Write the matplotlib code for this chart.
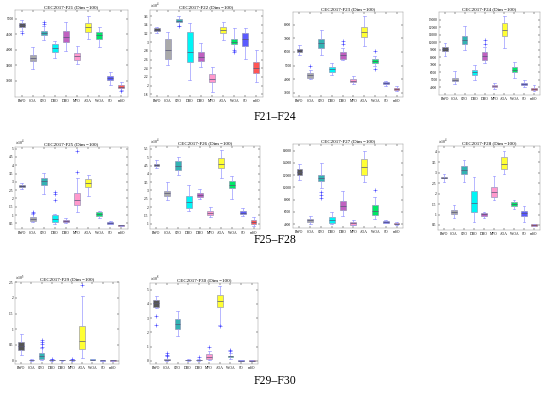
import matplotlib
matplotlib.use("Agg")
import matplotlib.pyplot as plt

plt.rcParams['font.family'] = ['Liberation Serif', 'DejaVu Serif']
plt.rcParams['mathtext.fontset'] = 'stix'

algorithms = ["BWO", "COA", "CPO", "DBO", "DHO", "MPO", "AOA", "WOA", "SO", "mSO"]
colors = ["#555555", "#aaaaaa", "#33b3b3", "#00f5f5", "#c060c0",
          "#ff99cc", "#ffff33", "#00e866", "#5a5aff", "#ff5555"]

# ---- F21 ----
F21_q1 = [4728, 3637, 4469, 3940, 4242, 3691, 4587, 4339, 3043, 2773]
F21_med = [4803, 3745, 4544, 4069, 4425, 3799, 4728, 4479, 3108, 2816]
F21_q3 = [4879, 3853, 4620, 4188, 4609, 3907, 4857, 4587, 3162, 2860]
F21_lo = [4620, 3378, 4317, 3745, 3972, 3562, 4350, 4101, 2860, 2698]
F21_hi = [4965, 4080, 4760, 4296, 4900, 4134, 5095, 4728, 3281, 2957]
F21_fl = [[4555], [], [4900, 4840], [], [], [], [], [], [], [2660]]

# ---- F22 (x1e4) ----
F22_q1 = [3.254, 2.623, 3.454, 2.546, 2.569, 2.077, 3.200, 2.954, 2.915, 2.285]
F22_med = [3.285, 2.815, 3.492, 2.777, 2.662, 2.146, 3.277, 3.008, 3.062, 2.408]
F22_q3 = [3.315, 3.069, 3.523, 3.238, 2.777, 2.262, 3.338, 3.069, 3.208, 2.538]
F22_lo = [3.215, 2.469, 3.369, 2.138, 2.431, 1.862, 3.046, 2.800, 2.623, 2.077]
F22_hi = [3.354, 3.223, 3.600, 3.431, 2.985, 2.431, 3.454, 3.331, 3.323, 2.815]
F22_fl = [[], [], [3.37], [], [], [], [], [2.81, 2.78], [], []]

# ---- F23 ----
F23_q1 = [6000, 4122, 6317, 4537, 5463, 3805, 7098, 5195, 3634, 3195]
F23_med = [6122, 4293, 6659, 4732, 5756, 3902, 7463, 5366, 3707, 3268]
F23_q3 = [6244, 4463, 6976, 4902, 6000, 4000, 7829, 5512, 3780, 3366]
F23_lo = [5756, 4000, 5756, 4293, 5390, 3634, 6415, 5000, 3537, 3122]
F23_hi = [6488, 4700, 7634, 5220, 6300, 4220, 8610, 5700, 3854, 3488]
F23_fl = [[], [4976], [], [], [6805, 6560], [], [], [6073, 4780], [], []]

# ---- F24 ----
F24_q1 = [8777, 4759, 9804, 5652, 7661, 3955, 10875, 5964, 4268, 3643]
F24_med = [9045, 4982, 10339, 5964, 8196, 4089, 11679, 6321, 4446, 3777]
F24_q3 = [9313, 5205, 10875, 6321, 8643, 4223, 12571, 6634, 4580, 3911]
F24_lo = [8196, 4446, 9000, 4982, 7214, 3777, 9223, 5205, 4000, 3509]
F24_hi = [9893, 6098, 12125, 6991, 9400, 4536, 13554, 7348, 4937, 4312]
F24_fl = [[], [], [], [], [10250, 9700], [], [], [], [], []]

# ---- F25 (x1e4) ----
F25_q1 = [2.68, 0.64, 2.80, 0.60, 0.60, 1.60, 2.70, 0.96, 0.48, 0.34]
F25_med = [2.76, 0.76, 3.04, 0.74, 0.66, 1.90, 2.96, 1.08, 0.54, 0.38]
F25_q3 = [2.84, 0.86, 3.26, 1.00, 0.70, 2.30, 3.20, 1.16, 0.58, 0.42]
F25_lo = [2.56, 0.56, 2.24, 0.44, 0.52, 1.16, 2.16, 0.84, 0.44, 0.33]
F25_hi = [2.96, 1.04, 3.56, 1.04, 0.80, 3.24, 3.44, 1.26, 0.66, 0.43]
F25_fl = [[], [1.20, 1.10], [], [2.40, 2.26, 1.88], [], [4.84, 3.60], [], [], [], []]

# ---- F26 (x1e4) ----
F26_q1 = [4.50, 2.68, 4.22, 1.92, 2.58, 1.52, 4.36, 3.16, 1.56, 0.98]
F26_med = [4.56, 2.84, 4.48, 2.32, 2.70, 1.64, 4.62, 3.36, 1.66, 1.10]
F26_q3 = [4.62, 2.98, 4.76, 2.68, 2.82, 1.76, 4.98, 3.56, 1.76, 1.22]
F26_lo = [4.36, 2.42, 3.92, 1.76, 2.48, 1.42, 3.76, 2.48, 1.48, 0.88]
F26_hi = [4.82, 3.52, 5.02, 3.32, 3.06, 2.02, 5.42, 3.88, 1.96, 1.42]
F26_fl = [[], [], [], [], [], [], [], [], [], []]

# ---- F27 ----
F27_q1 = [12066, 4327, 10976, 4218, 6344, 3891, 12066, 5472, 4218, 3946]
F27_med = [12556, 4600, 11521, 4654, 6998, 4109, 13265, 6180, 4327, 4055]
F27_q3 = [13047, 4818, 11957, 5090, 7706, 4272, 14628, 7052, 4436, 4164]
F27_lo = [11140, 4055, 9900, 4000, 5308, 3782, 10867, 4872, 4109, 3891]
F27_hi = [13810, 5254, 13974, 5962, 9450, 4600, 15990, 8400, 4709, 4272]
F27_fl = [[], [], [9300, 8800, 8300], [], [], [], [], [9559], [], []]

# ---- F28 (x1e4) ----
F28_q1 = [2.73, 1.04, 2.92, 1.14, 0.95, 1.85, 3.16, 1.42, 0.95, 0.47]
F28_med = [2.77, 1.14, 3.11, 1.53, 1.01, 2.09, 3.44, 1.50, 1.06, 0.52]
F28_q3 = [2.81, 1.23, 3.31, 2.12, 1.06, 2.33, 3.73, 1.58, 1.17, 0.55]
F28_lo = [2.57, 0.85, 2.54, 0.66, 0.85, 1.69, 2.92, 1.26, 0.66, 0.45]
F28_hi = [2.92, 1.45, 3.60, 2.81, 1.14, 2.84, 4.05, 1.71, 1.41, 0.56]
F28_fl = [[], [], [], [], [], [], [], [], [], []]

# ---- F29 (x1e5) ----
F29_q1 = [0.35, 0.010, 0.07, 0.010, 0.010, 0.010, 0.37, 0.020, 0.005, 0.005]
F29_med = [0.47, 0.020, 0.14, 0.020, 0.015, 0.020, 0.64, 0.030, 0.012, 0.012]
F29_q3 = [0.61, 0.030, 0.24, 0.030, 0.020, 0.030, 1.12, 0.040, 0.020, 0.020]
F29_lo = [0.17, 0.000, 0.03, 0.000, 0.005, 0.000, 0.09, 0.010, 0.000, 0.000]
F29_hi = [0.85, 0.040, 0.40, 0.040, 0.030, 0.040, 2.06, 0.050, 0.030, 0.030]
F29_fl = [[], [], [0.66, 0.61, 0.54, 0.43], [0.045], [], [0.045], [2.40], [], [], []]

# ---- F30 (x1e8) ----
F30_q1 = [3.76, 0.02, 2.23, 0.02, 0.02, 0.12, 3.78, 0.23, 0.005, 0.005]
F30_med = [4.06, 0.06, 2.60, 0.04, 0.05, 0.26, 4.18, 0.30, 0.010, 0.010]
F30_q3 = [4.25, 0.12, 2.93, 0.07, 0.08, 0.47, 4.65, 0.35, 0.020, 0.020]
F30_lo = [3.71, 0.00, 1.71, 0.00, 0.00, 0.02, 2.54, 0.12, 0.000, 0.000]
F30_hi = [4.53, 0.40, 3.52, 0.10, 0.12, 0.66, 5.28, 0.54, 0.030, 0.030]
F30_fl = [[3.12, 2.49], [0.54, 0.42, 0.30], [], [], [0.26], [0.96], [2.46], [0.77, 0.66], [], []]

panels = [
    ("CEC2017-F21 (Dim =100)", F21_q1, F21_med, F21_q3, F21_lo, F21_hi, F21_fl, None, (2482, 5289), [3000, 3500, 4000, 4500, 5000]),
    ("CEC2017-F22 (Dim =100)", F22_q1, F22_med, F22_q3, F22_lo, F22_hi, F22_fl, 4, (1.738, 3.738), [1.8, 2, 2.2, 2.4, 2.6, 2.8, 3, 3.2, 3.4, 3.6]),
    ("CEC2017-F23 (Dim =100)", F23_q1, F23_med, F23_q3, F23_lo, F23_hi, F23_fl, None, (2707, 8927), [3000, 4000, 5000, 6000, 7000, 8000]),
    ("CEC2017-F24 (Dim =100)", F24_q1, F24_med, F24_q3, F24_lo, F24_hi, F24_fl, None, (2929, 14045), [4000, 5000, 6000, 7000, 8000, 9000, 10000, 11000, 12000, 13000]),
    ("CEC2017-F25 (Dim =100)", F25_q1, F25_med, F25_q3, F25_lo, F25_hi, F25_fl, 4, (0.16, 5.1), [0.5, 1, 1.5, 2, 2.5, 3, 3.5, 4, 4.5, 5]),
    ("CEC2017-F26 (Dim =100)", F26_q1, F26_med, F26_q3, F26_lo, F26_hi, F26_fl, 4, (0.68, 5.68), [1, 1.5, 2, 2.5, 3, 3.5, 4, 4.5, 5, 5.5]),
    ("CEC2017-F27 (Dim =100)", F27_q1, F27_med, F27_q3, F27_lo, F27_hi, F27_fl, None, (3346, 17080), [4000, 6000, 8000, 10000, 12000, 14000, 16000]),
    ("CEC2017-F28 (Dim =100)", F28_q1, F28_med, F28_q3, F28_lo, F28_hi, F28_fl, 4, (0.26, 4.28), [0.5, 1, 1.5, 2, 2.5, 3, 3.5, 4]),
    ("CEC2017-F29 (Dim =100)", F29_q1, F29_med, F29_q3, F29_lo, F29_hi, F29_fl, 5, (-0.105, 2.506), [0, 0.5, 1, 1.5, 2, 2.5]),
    ("CEC2017-F30 (Dim =100)", F30_q1, F30_med, F30_q3, F30_lo, F30_hi, F30_fl, 8, (-0.23, 5.47), [0, 1, 2, 3, 4, 5]),
]

# axes boxes in pixels: x0, x1, y_top, y_bottom
W, H = 550, 397
boxes_px = [
    (15, 128, 10, 97), (150, 263, 10, 97), (293, 403, 12, 97), (439, 540, 12, 95),
    (15, 128, 147, 229), (150, 260, 146, 229), (293, 403, 144, 228), (438, 540, 146, 230),
    (15, 119, 282, 364), (150, 258, 283, 364),
]

fig = plt.figure(figsize=(W / 100, H / 100), dpi=100)

for (title, q1, med, q3, lo, hi, fl, expo, ylim, yticks), (x0, x1, yt, yb) in zip(panels, boxes_px):
    ax = fig.add_axes([x0 / W, 1 - yb / H, (x1 - x0) / W, (yb - yt) / H])
    stats = []
    for i, name in enumerate(algorithms):
        stats.append(dict(label=name, q1=q1[i], med=med[i], q3=q3[i],
                          whislo=lo[i], whishi=hi[i], fliers=fl[i]))
    bp = ax.bxp(stats, patch_artist=True, widths=0.55, showfliers=True,
                boxprops=dict(linewidth=0.4, edgecolor="#8888aa"),
                medianprops=dict(color="#555577", linewidth=0.5),
                whiskerprops=dict(color="#9a9aff", linewidth=0.5),
                capprops=dict(color="#9a9aff", linewidth=0.5),
                flierprops=dict(marker="+", markersize=2.2, markeredgecolor="#4444ff",
                                markeredgewidth=0.4, linestyle="none"))
    for patch, c in zip(bp["boxes"], colors):
        patch.set_facecolor(c)
    ax.set_ylim(*ylim)
    ax.set_yticks(yticks)
    ax.set_yticklabels([("%g" % t) for t in yticks])
    ax.set_xlim(0.4, 10.6)
    ax.tick_params(axis="both", labelsize=2.6, length=1.2, width=0.3, direction="in",
                   top=True, right=True, pad=1.2)
    for sp in ax.spines.values():
        sp.set_linewidth(0.3)
        sp.set_color("#888888")
    ax.set_title(title, fontsize=3.6, pad=1.5)
    if expo is not None:
        ax.text(0.0, 1.005, r"$\times10^{%d}$" % expo, transform=ax.transAxes,
                fontsize=2.8, ha="left", va="bottom")

fig.text(275 / W, 1 - 117 / H, "F21–F24", ha="center", va="center", fontsize=8.5)
fig.text(275 / W, 1 - 240 / H, "F25–F28", ha="center", va="center", fontsize=8.5)
fig.text(275 / W, 1 - 381 / H, "F29–F30", ha="center", va="center", fontsize=8.5)

fig.savefig("out.png", dpi=100)
